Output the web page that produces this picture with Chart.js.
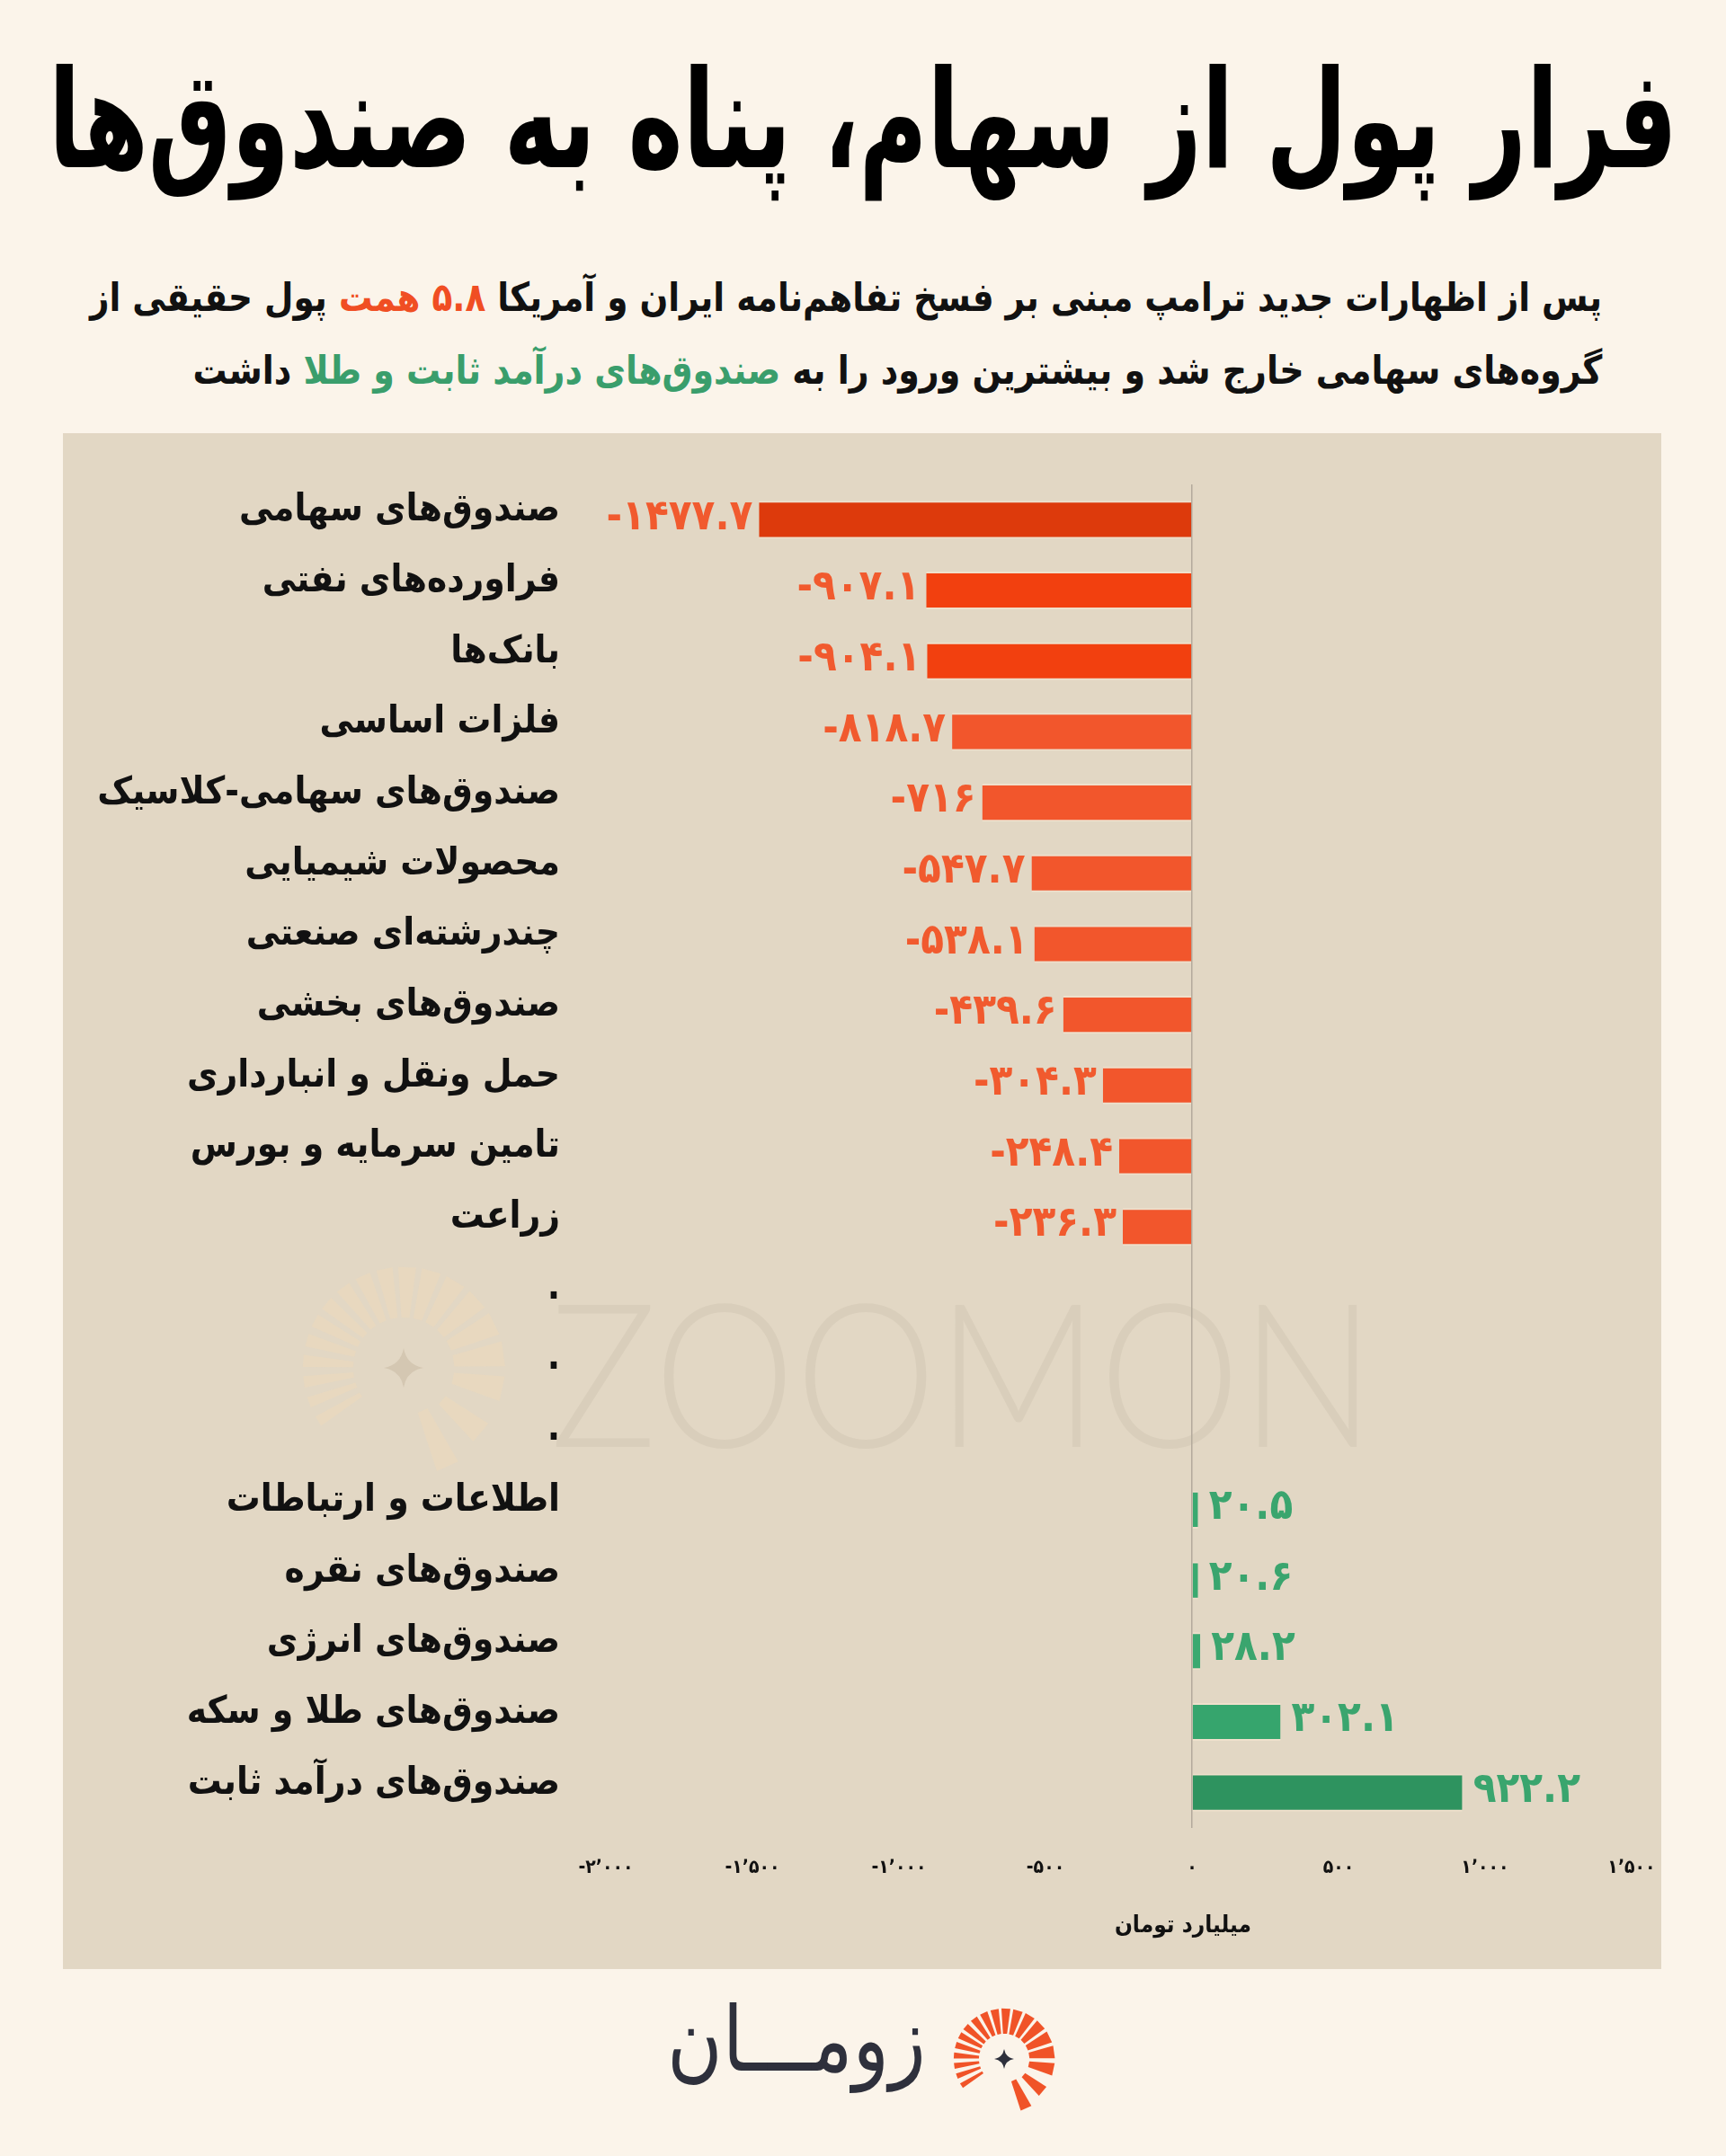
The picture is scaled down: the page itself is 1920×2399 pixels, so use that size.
<!DOCTYPE html>
<html lang="fa">
<head>
<meta charset="utf-8">
<script src="https://cdn.jsdelivr.net/npm/chart.js@4.4.1/dist/chart.umd.min.js"></script>
<style>
html,body{margin:0;padding:0;background:#fbf4ea;}
body{width:1920px;height:2399px;position:relative;overflow:hidden;font-family:"DejaVu Sans",sans-serif;}
.fit{display:inline-block;white-space:nowrap;}
#title{position:absolute;left:0;top:58px;width:1920px;height:170px;direction:rtl;font-weight:bold;font-size:152px;line-height:152px;color:#000;}
#title .fit{position:absolute;left:960px;top:0;transform-origin:left center;}
.sub{position:absolute;right:138px;direction:rtl;text-align:right;font-weight:bold;font-size:44px;line-height:44px;color:#111;white-space:nowrap;}
.sub .fit{transform-origin:right center;}
#sub1{top:309px;}
#sub2{top:390px;}
.red{color:#f04e23;}
.green{color:#3a9e6c;}
#panel{position:absolute;left:70px;top:482px;width:1778px;height:1709px;background:#e2d7c4;overflow:hidden;}
#wm{position:absolute;left:542px;top:930px;font-family:Lato,"Open Sans",sans-serif;font-weight:300;font-size:224px;line-height:224px;color:#d9cebb;white-space:nowrap;}
#wm .fit{transform-origin:left center;}
#wmIcon{position:absolute;left:259px;top:920px;}
#chart{position:absolute;left:0;top:0;}
#logoText{position:absolute;top:2220px;right:890px;direction:rtl;font-size:100px;line-height:100px;color:#2e303c;white-space:nowrap;}
#logoText .fit{transform-origin:right center;}
#logoIcon{position:absolute;left:1052px;top:2226px;}
</style>
</head>
<body>
<div id="title"><span class="fit" data-w="1812" data-center="1">فرار پول از سهام، پناه به صندوق‌ها</span></div>
<div class="sub" id="sub1"><span class="fit" data-w="1682">پس از اظهارات جدید ترامپ مبنی بر فسخ تفاهم‌نامه ایران و آمریکا <span class="red">۵.۸ همت</span> پول حقیقی از</span></div>
<div class="sub" id="sub2"><span class="fit" data-w="1568">گروه‌های سهامی خارج شد و بیشترین ورود را به <span class="green">صندوق‌های درآمد ثابت و طلا</span> داشت</span></div>

<div id="panel">
  <svg id="wmIcon" width="240" height="240" viewBox="-60 -60 120 120"></svg>
  <div id="wm"><span class="fit" data-w="918">ZOOMON</span></div>
  <canvas id="chart" width="1778" height="1709" dir="ltr"></canvas>
</div>

<div id="logoText"><span class="fit" data-w="288">زومـــان</span></div>
<svg id="logoIcon" width="130" height="130" viewBox="-65 -65 130 130"></svg>

<script>
// ---------- data ----------
const categories = [
  "صندوق\u200cهای سهامی",
  "فراورده\u200cهای نفتی",
  "بانک\u200cها",
  "فلزات اساسی",
  "صندوق\u200cهای سهامی-کلاسیک",
  "محصولات شیمیایی",
  "چندرشته\u200cای صنعتی",
  "صندوق\u200cهای بخشی",
  "حمل ونقل و انبارداری",
  "تامین سرمایه و بورس",
  "زراعت",
  ".", ".", ".",
  "اطلاعات و ارتباطات",
  "صندوق\u200cهای نقره",
  "صندوق\u200cهای انرژی",
  "صندوق\u200cهای طلا و سکه",
  "صندوق\u200cهای درآمد ثابت"
];
const values = [-1477.7, -907.1, -904.1, -818.7, -716, -547.7, -538.1, -439.6, -304.3, -248.4, -236.3,
  null, null, null, 20.5, 20.6, 28.2, 302.1, 922.2];
const xMin = -2000;
const xMax = 1500;
const xStep = 500;
const axisTitle = "میلیارد تومان";

// ---------- styles ----------
const barColors = ['#dd3a0c', '#f2400f', '#f2400f', '#f2562c', '#f2562c', '#f2562c', '#f2562c', '#f2562c',
  '#f2562c', '#f2562c', '#f2562c', null, null, null, '#3aa970', '#3aa970', '#3aa970', '#36a56d', '#2e935f'];
const LABEL_FONT = '"DejaVu Sans Condensed", "DejaVu Sans", sans-serif';
const NEG_COLOR = '#f15a2e';
const POS_COLOR = '#3aa56e';

const faDigits = '۰۱۲۳۴۵۶۷۸۹';
function toFa(s){ return String(s).replace(/[0-9]/g, d => faDigits[+d]); }
function fmtValue(v){ return (v < 0 ? '-' : '') + toFa(Math.abs(v)); }
function fmtTick(v){
  const a = Math.abs(v);
  let s = a >= 1000 ? Math.floor(a/1000) + '٬' + String(a % 1000).padStart(3,'0') : String(a);
  return (v < 0 ? '-' : '') + toFa(s);
}

// fit text widths
document.querySelectorAll('.fit').forEach(el => {
  const target = +el.dataset.w;
  const w = el.getBoundingClientRect().width;
  if (!(w > 0)) return;
  const k = target / w;
  if (el.dataset.center) {
    el.style.transform = 'translateX(' + (-target / 2) + 'px) scaleX(' + k + ')';
  } else {
    el.style.transform = 'scaleX(' + k + ')';
  }
});

// sunburst icons
function buildBurst(svg, rayColor, starColor, opacity){
  const ns = 'http://www.w3.org/2000/svg';
  const rays = [
    {a:148,w:3.0},{a:160,w:3.0},{a:172,w:3.2},{a:184,w:3.4},{a:196,w:3.6},{a:208,w:3.8},
    {a:220,w:4.0},{a:233,w:4.2},{a:246,w:4.4},{a:259,w:4.6},{a:272,w:5.0},{a:286,w:5.4},
    {a:301,w:5.8},{a:317,w:6.2},{a:334,w:6.6},{a:352,w:7.0},{a:12,w:7.0},{a:40,w:6.5},{a:66,w:6.5}
  ];
  rays.forEach((r,i) => {
    const t = r.a * Math.PI / 180;
    const r1 = (i === rays.length-1) ? 26 : 28, r2 = (i === rays.length-1) ? 60 : 56;
    const cx = Math.cos(t), sy = Math.sin(t), px = -sy, py = cx;
    const w1 = r.w * 0.45, w2 = r.w;
    const pts = [
      [cx*r1 + px*w1, sy*r1 + py*w1],
      [cx*r2 + px*w2, sy*r2 + py*w2],
      [cx*r2 - px*w2, sy*r2 - py*w2],
      [cx*r1 - px*w1, sy*r1 - py*w1]
    ].map(p => p[0].toFixed(2) + ',' + p[1].toFixed(2)).join(' ');
    const poly = document.createElementNS(ns, 'polygon');
    poly.setAttribute('points', pts);
    poly.setAttribute('fill', rayColor);
    poly.setAttribute('opacity', opacity);
    svg.appendChild(poly);
  });
  const star = document.createElementNS(ns, 'path');
  star.setAttribute('d', 'M0,-11 Q1.6,-1.6 11,0 Q1.6,1.6 0,11 Q-1.6,1.6 -11,0 Q-1.6,-1.6 0,-11 Z');
  star.setAttribute('fill', starColor);
  svg.appendChild(star);
}
buildBurst(document.getElementById('logoIcon'), '#f05328', '#2e303c', 1);
buildBurst(document.getElementById('wmIcon'), '#e9d8be', '#d4c7b2', 0.85);

// ---------- plugins ----------
const valueLabels = {
  id: 'valueLabels',
  afterDatasetsDraw(chart){
    const ctx = chart.ctx;
    const meta = chart.getDatasetMeta(0);
    ctx.save();
    ctx.font = 'bold 47px ' + LABEL_FONT;
    ctx.textBaseline = 'middle';
    ctx.direction = 'ltr';
    meta.data.forEach((bar, i) => {
      const v = values[i];
      if (v === null || v === undefined) return;
      const neg = v < 0;
      ctx.fillStyle = neg ? NEG_COLOR : POS_COLOR;
      ctx.textAlign = neg ? 'right' : 'left';
      ctx.fillText(fmtValue(v), bar.x + (neg ? -7 : 12), bar.y - 2);
    });
    ctx.restore();
  }
};
const axisTitlePlugin = {
  id: 'axisTitlePlugin',
  afterDraw(chart){
    const ctx = chart.ctx;
    const xs = chart.scales.x;
    ctx.save();
    ctx.font = 'bold 26px ' + LABEL_FONT;
    ctx.fillStyle = '#111';
    ctx.textAlign = 'center';
    ctx.textBaseline = 'middle';
    ctx.fillText(axisTitle, xs.getPixelForValue(0) - 10, chart.chartArea.bottom + 109);
    ctx.restore();
  }
};

new Chart(document.getElementById('chart'), {
  type: 'bar',
  data: {
    labels: categories,
    datasets: [{
      data: values,
      backgroundColor: barColors,
      borderColor: 'rgba(255,235,215,0.45)',
      borderWidth: {top: 2, bottom: 2, left: 0, right: 0},
      borderSkipped: false,
      barPercentage: 0.535,
      categoryPercentage: 1
    }]
  },
  options: {
    indexAxis: 'y',
    responsive: false,
    animation: false,
    devicePixelRatio: 1,
    layout: {padding: {top: 57, right: 33, left: 0, bottom: 0}},
    plugins: {legend: {display: false}, tooltip: {enabled: false}},
    scales: {
      x: {
        type: 'linear',
        min: xMin, max: xMax,
        afterFit(scale){ scale.height = 157; scale.paddingLeft = 0; scale.paddingRight = 0; },
        border: {display: false},
        grid: {
          drawTicks: false,
          color: c => (c.tick && c.tick.value === 0) ? '#b3aa9c' : 'rgba(0,0,0,0)',
          lineWidth: 1.5
        },
        ticks: {
          stepSize: xStep,
          autoSkip: false,
          maxRotation: 0,
          padding: 32,
          color: '#111',
          font: {family: LABEL_FONT, weight: 'bold', size: 21},
          callback: v => fmtTick(v)
        }
      },
      y: {
        afterFit(scale){ scale.width = 604; scale.paddingTop = 0; scale.paddingBottom = 0; },
        border: {display: false},
        grid: {display: false, drawTicks: false},
        ticks: {
          autoSkip: false,
          padding: 51,
          labelOffset: -10,
          color: '#111',
          font: {family: LABEL_FONT, weight: 'bold', size: 42}
        }
      }
    }
  },
  plugins: [valueLabels, axisTitlePlugin]
});
</script>
</body>
</html>
